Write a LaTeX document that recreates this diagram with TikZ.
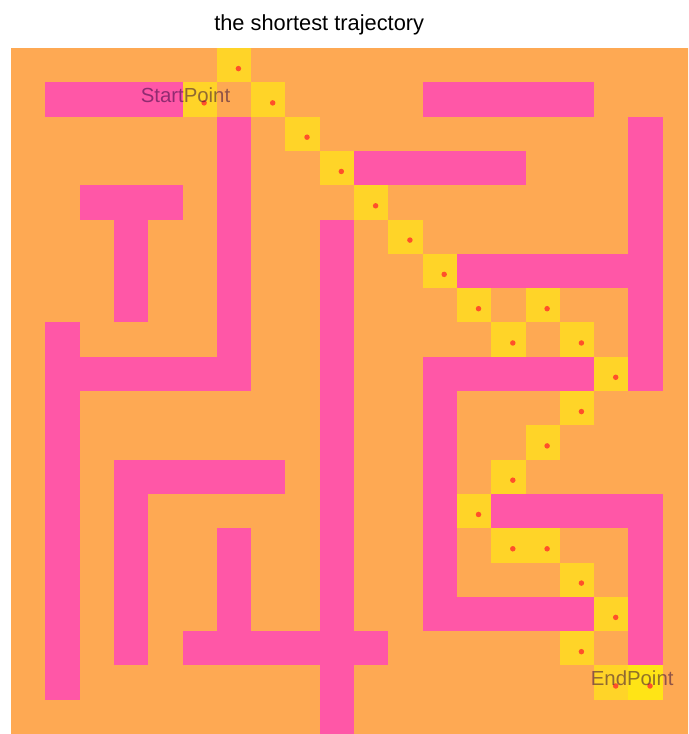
\documentclass[tikz,border=0pt]{standalone}
\usepackage{fontspec}
\setmainfont{Liberation Sans}
\definecolor{mazefloor}{RGB}{254,169,83}
\definecolor{mazewall}{RGB}{255,87,167}
\definecolor{trackcell}{RGB}{255,212,40}
\definecolor{goalcell}{RGB}{255,228,22}
\definecolor{trackdot}{RGB}{255,80,42}
\definecolor{labelink}{RGB}{35,0,60}

\begin{document}
\begin{tikzpicture}[
  x=1cm, y=1cm,
  wall/.style={fill=mazewall},
  track/.style={fill=trackcell},
  goal/.style={fill=goalcell},
  dotmark/.style={fill=trackdot},
  pointlabel/.style={font=\fontsize{16.9}{20}\selectfont, text=labelink,
                     text opacity=0.5, inner sep=0pt, anchor=base},
  titlelabel/.style={font=\fontsize{18.1}{22}\selectfont, inner sep=0pt, anchor=base}
]
\useasboundingbox (-0.3207,-20) rectangle (19.738,1.3994);
\fill[white] (-0.3207,-20) rectangle (19.738,1.3994);
\clip (-0.3207,-20) rectangle (19.738,1.3994);

\fill[mazefloor] (0,0) rectangle (20,-20);

\foreach \ca/\ra/\cb/\rb in {1/1/4/1, 12/1/16/1, 6/2/6/9, 18/2/18/9, 10/3/14/3,
    2/4/4/4, 3/5/3/7, 9/5/9/16, 13/6/18/6, 1/8/1/18, 1/9/6/9, 12/9/16/9,
    12/10/12/16, 3/12/7/12, 3/13/3/17, 14/13/18/13, 18/14/18/17, 6/14/6/16,
    12/16/16/16, 5/17/10/17, 9/18/9/19}
  \fill[wall] (\ca,-\ra) rectangle (\cb+1,-\rb-1);

\foreach \c/\r in {5/1, 6/0, 7/1, 8/2, 9/3, 10/4, 11/5, 12/6, 13/7, 14/8, 15/7,
    16/8, 17/9, 16/10, 15/11, 14/12, 13/13, 14/14, 15/14, 16/15, 17/16, 16/17, 17/18}
  \fill[track] (\c,-\r) rectangle (\c+1,-\r-1);
\fill[goal] (18,-18) rectangle (19,-19);

\foreach \c/\r in {5/1, 6/0, 7/1, 8/2, 9/3, 10/4, 11/5, 12/6, 13/7, 14/8, 15/7,
    16/8, 17/9, 16/10, 15/11, 14/12, 13/13, 14/14, 15/14, 16/15, 17/16, 16/17,
    17/18, 18/18}
  \fill[dotmark] (\c+0.63,-\r-0.6) circle (0.08);

\node[titlelabel] (title) at (8.985,0.5) {the shortest trajectory};
\node[pointlabel] (startlabel) at (5.087,-1.583) {StartPoint};
\node[pointlabel] (endlabel) at (18.11,-18.60) {EndPoint};
\end{tikzpicture}
\end{document}
